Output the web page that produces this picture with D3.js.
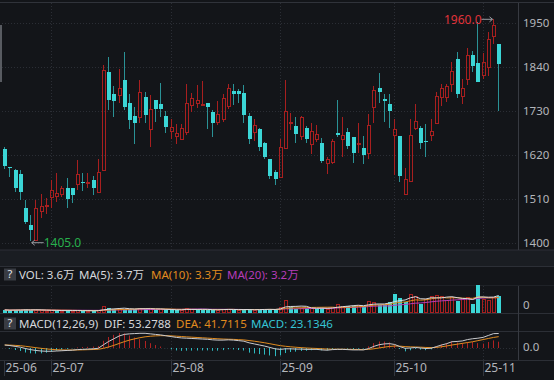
<!DOCTYPE html>
<html><head><meta charset="utf-8">
<script src="https://cdn.jsdelivr.net/npm/d3@7"></script>
<style>
html,body{margin:0;padding:0;background:#131519;overflow:hidden;}
svg{display:block;}
text{font-family:"Noto Sans","Noto Sans CJK SC",sans-serif;}
</style></head><body>
<svg id="c" width="554" height="380"></svg>
<script>
// ---------- data ----------
const monthLabels = ["25-06","25-07","25-08","25-09","25-10","25-11"];
const monthDays = [
  [18,19,20,23,24,25,26,27,30],
  [1,2,3,4,7,8,9,10,11,14,15,16,17,18,21,22,23,24,25,28,29,30,31],
  [1,4,5,6,7,8,11,12,13,14,15,18,19,20,21,22,25,26,27,28,29],
  [1,2,3,4,5,8,9,10,11,12,15,16,17,18,19,22,23,24,25,26,29,30],
  [9,10,13,14,15,16,17,20,21,22,23,24,27,28,29,30,31],
  [3,4,5,6]
];
const openP  = [1636,1590,1582,1572,1486,1444,1408,1479,1493,1515,1517,1523,1538,1538,1548,1553,1550,1557,1528,1581,
  1827,1774,1770,1809,1749,1718,1714,1764,1686,1758,1747,1717,1681,1668,1661,1678,1745,1749,1745,1749,
  1727,1703,1710,1743,1780,1780,1776,1718,1678,1684,1651,1611,1576,1565,1638,1701,1692,1667,1687,1647,
  1661,1651,1599,1603,1674,1661,1678,1664,1649,1638,1625,1739,1789,1760,1748,1670,1667,1522,1555,1687,
  1688,1655,1670,1699,1766,1766,1797,1860,1768,1810,1871,1850,1820,1840,1919,1898];
const highP  = [1639,1591,1584,1582,1508,1469,1508,1522,1513,1558,1575,1543,1561,1538,1607,1575,1575,1568,1611,1845,
  1866,1793,1835,1877,1774,1741,1808,1778,1770,1758,1801,1730,1710,1697,1697,1799,1776,1795,1806,1749,
  1733,1756,1773,1799,1798,1785,1795,1724,1709,1687,1653,1611,1582,1659,1809,1726,1716,1717,1692,1699,
  1695,1663,1615,1659,1758,1716,1687,1666,1699,1667,1722,1794,1825,1774,1774,1710,1667,1588,1710,1748,
  1693,1697,1710,1777,1797,1798,1852,1879,1810,1887,1881,1954,1875,1929,1960,1898];
const lowP   = [1584,1565,1528,1507,1446,1405,1406,1461,1473,1486,1502,1515,1488,1500,1533,1530,1536,1519,1527,1580,
  1732,1714,1749,1732,1686,1647,1699,1699,1639,1703,1716,1674,1660,1647,1657,1670,1728,1737,1743,1686,
  1666,1695,1703,1735,1745,1749,1701,1647,1656,1630,1611,1559,1544,1565,1636,1682,1649,1657,1649,1622,
  1653,1600,1572,1597,1666,1614,1636,1600,1624,1597,1611,1699,1749,1703,1688,1569,1551,1519,1553,1682,
  1635,1615,1655,1697,1743,1753,1777,1763,1747,1795,1829,1802,1810,1819,1897,1730];
const closeP = [1592,1588,1536,1526,1452,1431,1486,1492,1495,1533,1524,1538,1509,1519,1571,1550,1553,1538,1577,1834,
  1758,1755,1789,1741,1707,1701,1778,1719,1735,1734,1736,1691,1689,1674,1688,1749,1762,1758,1748,1741,
  1699,1722,1762,1789,1774,1774,1720,1660,1695,1641,1615,1567,1559,1639,1731,1702,1672,1714,1659,1681,
  1672,1605,1609,1655,1670,1670,1642,1626,1651,1621,1695,1783,1777,1756,1730,1685,1568,1559,1671,1706,
  1649,1653,1680,1768,1787,1793,1830,1773,1787,1871,1844,1802,1852,1911,1946,1848];
// volume in 万
const volume = [0.6,0.5,0.6,0.6,0.7,0.6,0.6,0.5,0.4,0.5,0.5,0.4,0.5,0.4,0.5,0.4,0.4,0.4,0.5,1.4,
  1.0,0.8,0.8,0.9,0.8,0.7,1.1,0.8,0.9,0.6,0.7,0.7,0.6,0.5,0.6,1.1,0.7,0.6,0.6,0.6,
  0.7,0.6,0.8,0.8,0.6,0.5,0.7,0.8,0.6,0.7,0.7,0.8,0.7,1.2,2.8,1.2,0.9,1.0,1.0,1.0,
  0.9,1.0,0.8,1.3,1.9,1.5,1.5,1.4,1.7,1.4,2.5,2.2,1.6,1.7,2.4,4.1,3.2,2.3,4.0,3.6,
  1.9,3.0,3.6,3.8,3.6,2.8,3.4,2.6,3.0,3.3,1.9,5.9,2.9,2.7,3.4,3.6];
const dif = [11,9,6,3,-2,-6,-9,-11,-12,-12,-11,-10,-9,-8,-6,-5,-4,-3,-1,12,
  24,34,44,50,52,53,54,54,52,50,48,45,42,39,37,36,35,34,33,32,
  30,29,29,30,29,27,25,19,15,11,7,2,-3,-5,-3,-3,-4,-4,-5,-5,
  -5,-7,-8,-6,-5,-5,-6,-7,-7,-7,-2,6,12,15,16,13,5,-1,0,2,
  0,-2,-1,5,11,16,23,24,26,31,34,36,39,46,52.8,53.2788];
const dea = [11,10.6,9.7,8.4,6.3,3.8,1.2,-1.2,-3.4,-5.1,-6.3,-7,-7.4,-7.5,-7.2,-6.8,-6.2,-5.6,-4.7,-1.3,
  3.8,9.8,16.6,23.3,29,33.8,37.8,41.1,43.2,44.6,45.3,45.2,44.6,43.5,42.2,40.9,39.8,38.6,37.5,36.4,
  35.1,33.9,32.9,32.3,31.7,30.7,29.6,27.5,25,22.2,19.2,15.7,12,8.6,6.3,4.4,2.7,1.4,0.1,-0.9,
  -1.7,-2.8,-3.8,-4.2,-4.4,-4.5,-4.8,-5.2,-5.6,-5.9,-5.1,-2.9,0.1,3.1,5.7,7.2,6.8,5.2,4.2,3.7,
  3,2,1.4,2.1,4.5,7.5,11,14,17,20,23,27,31,35,38.8,41.7115];
const macdHist = [0,-3.2,-7.4,-10.8,-16.6,-19.6,-20.4,-19.6,-17.2,-13.8,-9.4,-6,-3.2,-1,2.4,3.6,4.4,5.2,7.4,26.6,
  40.4,48.4,54.8,53.4,46,38.4,32.4,25.8,17.6,10.8,5.4,-0.4,-5.2,-9,-10.4,-9.8,-9.6,-9.2,-9,-8.8,
  -10.2,-9.8,-7.8,-4.6,-5.4,-7.4,-9.2,-17,-20,-22.4,-24.4,-27.4,-30,-27.2,-18.6,-14.8,-13.4,-10.8,-10.2,-8.2,
  -6.6,-8.4,-8.4,-3.6,-1.2,-1,-2.4,-3.6,-2.8,-2.2,6.2,17.8,23.8,23.8,20.6,11.6,-3.6,-12.4,-8.4,-3.4,
  -6,-8,-4.8,5.8,13,17,24,20,18,22,22,18,16,22,28,23.1346];
const priceTicks = [1400,1510,1620,1730,1840,1950];
const volLegend = [["VOL: 3.6万","#d6d8dc"],["MA(5): 3.7万","#d6d8dc"],["MA(10): 3.3万","#e08b1f"],["MA(20): 3.2万","#b63cb8"]];
const macdLegend = [["MACD(12,26,9)","#d6d8dc"],["DIF: 53.2788","#d6d8dc"],["DEA: 41.7115","#e08b1f"],["MACD: 23.1346","#35c4d4"]];

// ---------- build ----------
const dates = [];
monthDays.forEach((ds, m) => ds.forEach(d => dates.push(monthLabels[m] + "-" + String(d).padStart(2, "0"))));
const rows = dates.map((d, i) => ({d, i, o: openP[i], h: highP[i], l: lowP[i], c: closeP[i], v: volume[i],
  dif: dif[i], dea: dea[i], m: macdHist[i]}));

const W = 554, H = 380, axisX = 518;
const C = {bg:"#131519", strip:"#1a1d22", line:"#2c2f36", grid:"#2b2e35", axis:"#373a41", label:"#b3b6bb",
  red:"#a81f1f", cyan:"#3bd6d6", cyanWick:"#2a9296"};

const svg = d3.select("#c");
svg.append("rect").attr("width", W).attr("height", H).attr("fill", C.bg);

const x = d3.scalePoint().domain(dates).range([4.7, 498.7]);
const px = d => Math.round(x(d) - 0.5);          // pixel column of a candle

const yP = d3.scaleLinear().domain([1400, 1950]).range([242.7, 23.3]);
const yV = d3.scaleLinear().domain([0, d3.max(volume)]).range([312.7, 285.3]);
const yM = d3.scaleLinear().domain([0, 53.2788]).range([348, 333.5]);

// panel frame
svg.append("line").attr("x1",0).attr("x2",W).attr("y1",2.5).attr("y2",2.5).attr("stroke","#30333a");
svg.append("rect").attr("x",0).attr("y",250).attr("width",W).attr("height",16.5).attr("fill",C.strip);
[250, 266.5, 313.5, 331.5, 360.5].forEach(yy =>
  svg.append("line").attr("x1",0).attr("x2",W).attr("y1",yy).attr("y2",yy).attr("stroke",C.line));
svg.append("line").attr("x1",0).attr("x2",W).attr("y1",285.5).attr("y2",285.5).attr("stroke","#1f2227");
svg.append("rect").attr("x",0).attr("y",25).attr("width",2).attr("height",57).attr("fill","#585b61");

// month boundaries
const monthStarts = monthDays.map((ds, m) => monthLabels[m] + "-" + String(ds[0]).padStart(2, "0"));
const gridG = svg.append("g").attr("stroke", C.grid).attr("stroke-dasharray", "1,2");
monthStarts.slice(1).forEach(d => {
  const xx = px(d) + 0.5;
  [[3, 250], [286, 313], [332, 360]].forEach(([a, b]) =>
    gridG.append("line").attr("x1", xx).attr("x2", xx).attr("y1", a).attr("y2", b));
});
// price grid
priceTicks.forEach(t => {
  const yy = Math.round(yP(t)) + 0.5;
  gridG.append("line").attr("x1", 2).attr("x2", axisX).attr("y1", yy).attr("y2", yy);
});
// macd zero line
gridG.append("line").attr("x1", 2).attr("x2", axisX).attr("y1", Math.round(yM(0)) + 0.5).attr("y2", Math.round(yM(0)) + 0.5);

// right axis
svg.append("line").attr("x1", axisX + 0.5).attr("x2", axisX + 0.5).attr("y1", 3).attr("y2", 250).attr("stroke", C.axis);
svg.append("line").attr("x1", axisX + 0.5).attr("x2", axisX + 0.5).attr("y1", 286).attr("y2", 360).attr("stroke", C.axis);
const yAxis = d3.axisRight(yP).tickValues(priceTicks).tickFormat(d3.format("d")).tickSize(0).tickPadding(5);
const gA = svg.append("g").attr("transform", `translate(${axisX},0)`).call(yAxis);
gA.select(".domain").remove();
gA.selectAll("text").attr("fill", C.label).attr("font-size", 11.5).attr("font-family", '"Noto Sans",sans-serif');
svg.append("text").attr("x", 523).attr("y", 305).attr("dy", "0.35em").attr("fill", C.label).attr("font-size", 11.5).text("0");
svg.append("text").attr("x", 523).attr("y", 347).attr("dy", "0.35em").attr("fill", C.label).attr("font-size", 11.5).text("0.0");

// x axis labels
const xg = svg.append("g");
monthStarts.forEach((d, m) => {
  const xx = px(d) + 0.5;
  xg.append("line").attr("x1", xx).attr("x2", xx).attr("y1", 361).attr("y2", 376).attr("stroke", "#33363c");
  xg.append("text").attr("x", xx + 1).attr("y", 368).attr("dy", "0.36em").attr("fill", C.label)
    .attr("font-size", 12).text(monthLabels[m]);
});

// ---------- candles ----------
const cg = svg.append("g");
rows.forEach(r => {
  const k = px(r.d);
  const yH = Math.round(yP(r.h)), yL = Math.round(yP(r.l));
  const yO = Math.round(yP(r.o)), yC = Math.round(yP(r.c));
  const top = Math.min(yO, yC), bot = Math.max(yO, yC);
  if (r.c >= r.o) {
    if (top > yH) cg.append("line").attr("x1", k + 0.5).attr("x2", k + 0.5).attr("y1", yH).attr("y2", top).attr("stroke", C.red);
    if (yL > bot) cg.append("line").attr("x1", k + 0.5).attr("x2", k + 0.5).attr("y1", bot).attr("y2", yL).attr("stroke", C.red);
    cg.append("rect").attr("x", k - 0.5).attr("y", top + 0.5).attr("width", 3).attr("height", Math.max(bot - top, 1))
      .attr("fill", "none").attr("stroke", C.red);
  } else {
    cg.append("line").attr("x1", k + 0.5).attr("x2", k + 0.5).attr("y1", yH).attr("y2", yL).attr("stroke", C.cyanWick);
    cg.append("rect").attr("x", k - 1).attr("y", top).attr("width", 4).attr("height", Math.max(bot - top, 1)).attr("fill", C.cyan);
  }
});

// high / low markers
const iHi = d3.maxIndex(highP), iLo = d3.minIndex(lowP);
{
  const xx = x(dates[iHi]), yy = yP(highP[iHi]);
  svg.append("line").attr("x1", xx - 12).attr("x2", xx - 1).attr("y1", yy).attr("y2", yy).attr("stroke", "#9a9ca1");
  svg.append("path").attr("d", `M${xx - 4},${yy - 2.5}L${xx - 1},${yy}L${xx - 4},${yy + 2.5}`).attr("fill", "none").attr("stroke", "#9a9ca1");
  svg.append("text").attr("x", xx - 12).attr("y", yy).attr("dy", "0.36em").attr("text-anchor", "end")
    .attr("fill", "#e0333a").attr("font-size", 12).text(highP[iHi].toFixed(1));
}
{
  const xx = x(dates[iLo]), yy = yP(lowP[iLo]) + 2;
  svg.append("line").attr("x1", xx + 1).attr("x2", xx + 13).attr("y1", yy).attr("y2", yy).attr("stroke", "#9a9ca1");
  svg.append("path").attr("d", `M${xx + 4},${yy - 2.5}L${xx + 1},${yy}L${xx + 4},${yy + 2.5}`).attr("fill", "none").attr("stroke", "#9a9ca1");
  svg.append("text").attr("x", xx + 13).attr("y", yy).attr("dy", "0.36em")
    .attr("fill", "#27b04c").attr("font-size", 12).text(lowP[iLo].toFixed(1));
}

// ---------- volume ----------
const vg = svg.append("g");
rows.forEach((r, i) => {
  const k = px(r.d);
  const up = i === 0 ? r.c >= r.o : r.c >= closeP[i - 1];
  const yt = Math.round(yV(r.v)), yb = Math.round(yV(0));
  if (up) {
    vg.append("rect").attr("x", k - 0.5).attr("y", yt + 0.5).attr("width", 3).attr("height", Math.max(yb - yt - 1, 1))
      .attr("fill", "none").attr("stroke", C.red);
  } else {
    vg.append("rect").attr("x", k - 1).attr("y", yt).attr("width", 4).attr("height", Math.max(yb - yt, 1)).attr("fill", C.cyan);
  }
});
const ma = n => volume.map((v, i) => d3.mean(volume.slice(Math.max(0, i - n + 1), i + 1)));
[[20, "#b63cb8"], [10, "#e08b1f"], [5, "#d9dadd"]].forEach(([n, col]) => {
  const vals = ma(n);
  svg.append("path").attr("fill", "none").attr("stroke", col).attr("stroke-width", 1)
    .attr("d", d3.line().x(d => x(d)).y((d, i) => yV(vals[i]))(dates));
});

// ---------- MACD ----------
const mg = svg.append("g");
rows.forEach(r => {
  const k = px(r.d);
  mg.append("line").attr("x1", k + 0.5).attr("x2", k + 0.5).attr("y1", yM(0)).attr("y2", yM(r.m))
    .attr("stroke", r.m >= 0 ? "#b02222" : "#2fb9bf");
});
svg.append("path").attr("fill", "none").attr("stroke", "#e08b1f").attr("stroke-width", 1)
  .attr("d", d3.line().x(r => x(r.d)).y(r => yM(r.dea))(rows));
svg.append("path").attr("fill", "none").attr("stroke", "#c9cacd").attr("stroke-width", 1)
  .attr("d", d3.line().x(r => x(r.d)).y(r => yM(r.dif))(rows));

// ---------- legends ----------
function legend(yy, items, xs) {
  svg.append("rect").attr("x", 4).attr("y", yy - 6).attr("width", 12).attr("height", 12).attr("fill", "#393c43");
  svg.append("text").attr("x", 10).attr("y", yy).attr("dy", "0.36em").attr("text-anchor", "middle")
    .attr("fill", "#e6e7ea").attr("font-size", 11).text("?");
  items.forEach(([s, col], j) =>
    svg.append("text").attr("x", xs[j]).attr("y", yy).attr("dy", "0.36em").attr("font-size", 11.5).attr("fill", col).text(s));
}
legend(274.5, volLegend, [19, 79, 151, 227]);
legend(323.5, macdLegend, [19, 104, 176, 251]);
</script>
</body></html>
